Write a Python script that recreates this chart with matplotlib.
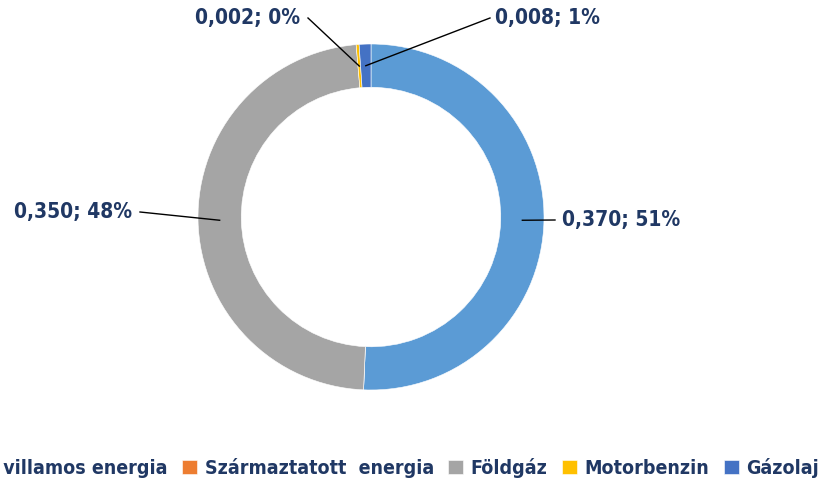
import matplotlib
matplotlib.use("Agg")
import matplotlib.pyplot as plt
import numpy as np

categories = ["Vásárolt villamos energia", "Származtatott  energia", "Földgáz", "Motorbenzin", "Gázolaj"]
values = [0.370, 0.0, 0.350, 0.002, 0.008]
colors = ["#5B9BD5", "#ED7D31", "#A5A5A5", "#FFC000", "#4472C4"]

plt.rcParams['font.family'] = ['DejaVu Sans']
plt.rcParams['font.stretch'] = 'condensed'

W, H = 821, 482
fig = plt.figure(figsize=(W/100, H/100), dpi=100)
cx, cy, R = 371, 217, 173
ax = fig.add_axes([(cx-R)/W, (H-cy-R)/H, 2*R/W, 2*R/H])

wedges, _ = ax.pie(values, colors=colors, startangle=90, counterclock=False, radius=1,
                   wedgeprops=dict(width=0.25, edgecolor='white', linewidth=0.4))
ax.set_xlim(-1, 1); ax.set_ylim(-1, 1); ax.set_aspect('equal'); ax.axis('off')

total = sum(values)
txtcolor = "#203864"
layout = {0: ((555, 220), 562, 'left'),
          2: ((140, 212), 132, 'right'),
          3: ((308, 18), 300, 'right'),
          4: ((490, 18), 495, 'left')}
cum = 0
for i, v in enumerate(values):
    mid = cum + v/2
    cum += v
    if i not in layout:
        continue
    ang = np.deg2rad(90 - 360*mid/total)
    r = 0.875
    px, py = r*np.cos(ang), r*np.sin(ang)
    (lx, ly), tx, ha = layout[i]
    lxd = (lx - cx)/R
    lyd = (cy - ly)/R
    ax.plot([px, lxd], [py, lyd], color='black', lw=1, clip_on=False, zorder=5)
    label = f"{v:.3f}".replace('.', ',') + f"; {round(100*v/total):.0f}%"
    ax.text((tx - cx)/R, lyd, label, ha=ha, va='center', fontsize=15, fontweight='bold',
            color=txtcolor, clip_on=False)

leg = fig.legend(wedges, categories, loc='center right', bbox_to_anchor=(1.0, (H-468)/H),
                 ncol=5, frameon=False, handlelength=0.75, handleheight=0.75,
                 handletextpad=0.4, columnspacing=0.75, borderaxespad=0, borderpad=0.1,
                 prop=dict(weight='bold', size=14, stretch='condensed'))
for t in leg.get_texts():
    t.set_color(txtcolor)

fig.savefig("out.png", dpi=100)
